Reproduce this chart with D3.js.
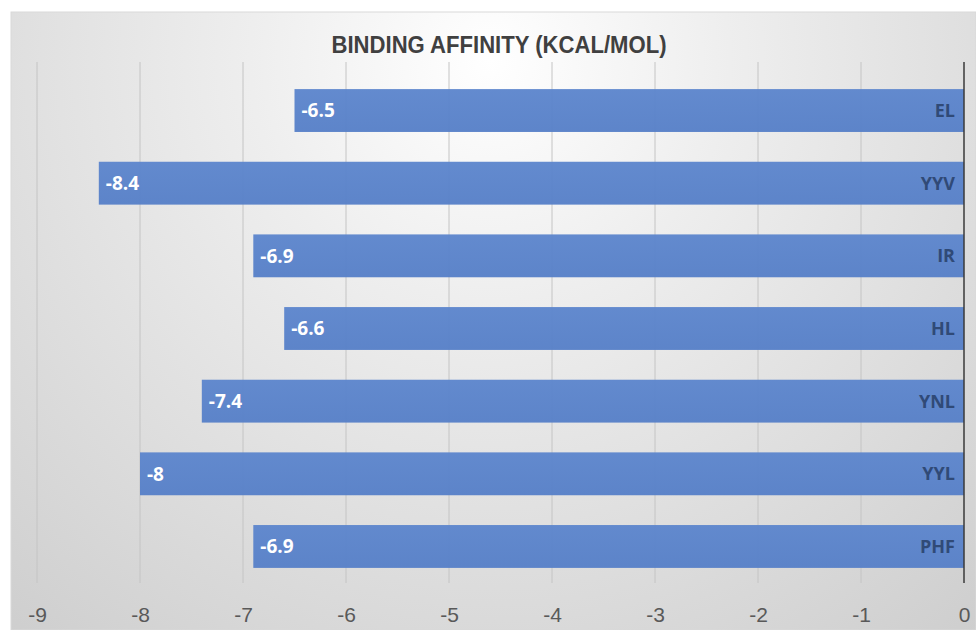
<!DOCTYPE html>
<html>
<head>
<meta charset="utf-8">
<script src="https://cdn.jsdelivr.net/npm/d3@7"></script>
<style>
  html, body { margin: 0; padding: 0; background: #fff; }
  svg { display: block; }
</style>
</head>
<body>
<script>
(function() {

  var width = 976;
  var height = 630;

  // data
  var categories = ['EL', 'YYV', 'IR', 'HL', 'YNL', 'YYL', 'PHF'];
  var affinity = [-6.5, -8.4, -6.9, -6.6, -7.4, -8, -6.9];
  var tickValues = [-9, -8, -7, -6, -5, -4, -3, -2, -1, 0];
  var title = 'BINDING AFFINITY (KCAL/MOL)';

  var narrow = '"Liberation Sans Narrow", "Liberation Sans", sans-serif';
  var sans = '"Open Sans", sans-serif';

  var svg = d3.select('body')
    .append('svg')
      .attr('width', width)
      .attr('height', height);

  var defs = svg.append('defs');

  var bg = defs.append('radialGradient')
    .attr('id', 'bgGradient')
    .attr('gradientUnits', 'userSpaceOnUse')
    .attr('cx', 490)
    .attr('cy', 60)
    .attr('r', 800);
  bg.append('stop').attr('offset', '0%').style('stop-color', '#ffffff');
  bg.append('stop').attr('offset', '30%').style('stop-color', '#eeeeee');
  bg.append('stop').attr('offset', '100%').style('stop-color', '#cbcbcb');

  var barGrad = defs.append('linearGradient')
    .attr('id', 'barGradient')
    .attr('x1', '0%').attr('y1', '0%')
    .attr('x2', '0%').attr('y2', '100%');
  barGrad.append('stop').attr('offset', '0%').style('stop-color', '#5d86cd');
  barGrad.append('stop').attr('offset', '100%').style('stop-color', '#5780c8');

  // chart background
  svg.append('rect')
    .attr('x', 11)
    .attr('y', 12)
    .attr('width', width - 11)
    .attr('height', height - 12)
    .attr('fill', 'url(#bgGradient)')
    .attr('stroke', '#d9d9d9')
    .attr('stroke-width', 1);

  var x = d3.scaleLinear()
    .domain([-9, 0])
    .range([37, 964]);

  var y = d3.scaleBand()
    .domain(categories)
    .range([74.2, 582.8])
    .paddingInner(0.41)
    .paddingOuter(0.205);

  var gridTop = 62;
  var gridBottom = 583;

  // gridlines
  svg.append('g')
    .selectAll('line')
    .data(tickValues.filter(function(d) { return d !== 0; }))
    .enter()
    .append('line')
      .attr('x1', function(d) { return x(d); })
      .attr('x2', function(d) { return x(d); })
      .attr('y1', gridTop)
      .attr('y2', gridBottom)
      .attr('stroke', '#c4c4c4')
      .attr('stroke-width', 1);

  // bars
  var rows = categories.map(function(c, i) { return { cat: c, value: affinity[i] }; });

  var bars = svg.append('g');

  bars.selectAll('rect')
    .data(rows)
    .enter()
    .append('rect')
      .attr('x', function(d) { return x(d.value); })
      .attr('y', function(d) { return y(d.cat); })
      .attr('width', function(d) { return x(0) - x(d.value); })
      .attr('height', y.bandwidth())
      .attr('fill', 'url(#barGradient)')
      .attr('fill-opacity', 0.96);

  // value labels
  bars.selectAll('text.value')
    .data(rows)
    .enter()
    .append('text')
      .attr('class', 'value')
      .attr('x', function(d) { return x(d.value) + 7; })
      .attr('y', function(d) { return y(d.cat) + y.bandwidth() / 2; })
      .attr('dy', '0.36em')
      .attr('fill', '#ffffff')
      .style('font-family', sans)
      .style('font-weight', 'bold')
      .style('font-size', '19px')
      .text(function(d) { return String(d.value); });

  // category labels
  bars.selectAll('text.cat')
    .data(rows)
    .enter()
    .append('text')
      .attr('class', 'cat')
      .attr('x', x(0) - 9)
      .attr('y', function(d) { return y(d.cat) + y.bandwidth() / 2; })
      .attr('dy', '0.36em')
      .attr('text-anchor', 'end')
      .attr('fill', '#304a77')
      .style('font-family', sans)
      .style('font-weight', 'bold')
      .style('font-size', '18px')
      .text(function(d) { return d.cat; });

  // zero line
  svg.append('line')
    .attr('x1', x(0))
    .attr('x2', x(0))
    .attr('y1', gridTop)
    .attr('y2', gridBottom)
    .attr('stroke', '#3a3a3a')
    .attr('stroke-width', 1.5);

  // x axis labels
  var axis = d3.axisBottom(x)
    .tickValues(tickValues)
    .tickSize(0)
    .tickPadding(0)
    .tickFormat(function(d) { return String(d); });

  var axisG = svg.append('g')
    .attr('transform', 'translate(0,' + 607 + ')')
    .call(axis);
  axisG.select('.domain').remove();
  axisG.selectAll('text')
    .attr('fill', '#595959')
    .style('font-family', narrow)
    .style('font-size', '21px');

  // title
  svg.append('text')
    .attr('x', 499)
    .attr('y', 53)
    .attr('text-anchor', 'middle')
    .attr('fill', '#404040')
    .style('font-family', narrow)
    .style('font-weight', 'bold')
    .style('font-size', '24px')
    .attr('textLength', 335)
    .attr('lengthAdjust', 'spacingAndGlyphs')
    .text(title);

})();
</script>
</body>
</html>
